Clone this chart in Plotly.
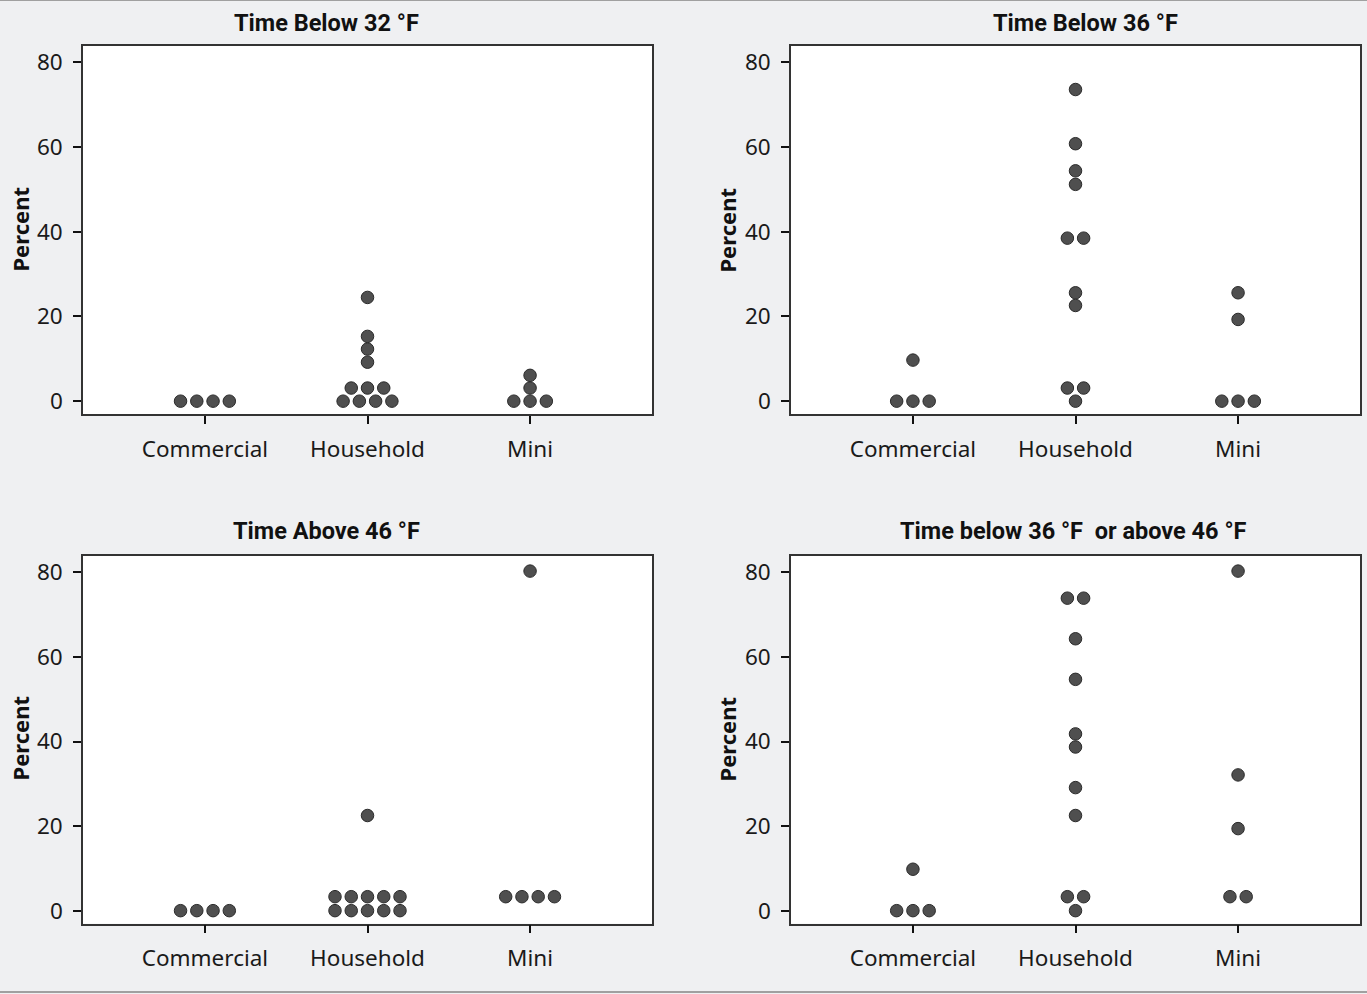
import plotly.graph_objects as go
from plotly.subplots import make_subplots

categories = ["Commercial", "Household", "Mini"]
panel_titles = ["Time Below 32 °F", "Time Below 36 °F", "Time Above 46 °F",
                "Time below 36 °F  or above 46 °F"]
y_ticks = [0, 20, 40, 60, 80]

below32_commercial = [0, 0, 0, 0]
below32_household = [24.5, 15.3, 12.3, 9.2, 3.1, 3.1, 3.1, 0, 0, 0, 0]
below32_mini = [6.1, 3.1, 0, 0, 0]

below36_commercial = [9.7, 0, 0, 0]
below36_household = [73.6, 60.8, 54.4, 51.2, 38.5, 38.5, 25.6, 22.6, 3.1, 3.1, 0]
below36_mini = [25.6, 19.3, 0, 0, 0]

above46_commercial = [0, 0, 0, 0]
above46_household = [22.5, 3.3, 3.3, 3.3, 3.3, 3.3, 0, 0, 0, 0, 0]
above46_mini = [80.3, 3.3, 3.3, 3.3, 3.3]

outside_commercial = [9.8, 0, 0, 0]
outside_household = [73.9, 73.9, 64.3, 54.7, 41.8, 38.7, 29.1, 22.5, 3.3, 3.3, 0]
outside_mini = [80.3, 32.1, 19.4, 3.3, 3.3]

panels = [
    [below32_commercial, below32_household, below32_mini],
    [below36_commercial, below36_household, below36_mini],
    [above46_commercial, above46_household, above46_mini],
    [outside_commercial, outside_household, outside_mini],
]

DOT_STEP = 0.1  # horizontal spacing of tied dots, in category units


def swarm(groups):
    xs, ys, txt = [], [], []
    for ci, vals in enumerate(groups):
        counts = {}
        for v in vals:
            counts[v] = counts.get(v, 0) + 1
        for v, n in counts.items():
            for k in range(n):
                xs.append(ci + (k - (n - 1) / 2) * DOT_STEP)
                ys.append(v)
                txt.append(categories[ci])
    return xs, ys, txt


fig = make_subplots(rows=2, cols=2)

W, H = 1367, 994
x_doms = [(83 / W, 652 / W), (791 / W, 1360 / W)]
y_doms = [((994 - 415) / H, (994 - 46) / H), ((994 - 925.5) / H, (994 - 557) / H)]

for p, groups in enumerate(panels):
    r, c = p // 2 + 1, p % 2 + 1
    xs, ys, txt = swarm(groups)
    fig.add_trace(go.Scatter(
        x=xs, y=ys, mode="markers", text=txt, showlegend=False,
        marker=dict(size=12.5, color="#4f4f4f", line=dict(color="#2a2a2a", width=1)),
        hovertemplate="%{text}: %{y}<extra></extra>"), row=r, col=c)

tick_font = dict(family="Noto Sans, Open Sans, sans-serif", size=22.5, color="#1a1a1a")
for p in range(4):
    ri, ci = p // 2, p % 2
    sfx = "" if p == 0 else str(p + 1)
    fig.layout["xaxis" + sfx].update(
        domain=x_doms[ci], range=[-0.75, 2.75], tickmode="array",
        tickvals=[0, 1, 2], ticktext=categories, showgrid=False, zeroline=False,
        showline=True, mirror=True, linecolor="#333333", linewidth=1.5,
        ticks="outside", ticklen=8, tickwidth=1.5, tickcolor="#111111",
        tickfont=tick_font, ticklabelstandoff=6)
    fig.layout["yaxis" + sfx].update(
        domain=y_doms[ri], range=[-3.07, 83.9], tickmode="array",
        tickvals=y_ticks, showgrid=False, zeroline=False,
        showline=True, mirror=True, linecolor="#333333", linewidth=1.5,
        ticks="outside", ticklen=8, tickwidth=1.5, tickcolor="#111111",
        tickfont=tick_font, ticklabelstandoff=6)

title_pos = [(326, 23), (1085, 23), (326, 532), (1073, 532)]
for p, (tx, ty) in enumerate(title_pos):
    fig.add_annotation(
        text="<b>" + panel_titles[p] + "</b>", xref="paper", yref="paper",
        x=tx / W, y=(H - ty) / H, xanchor="center", yanchor="middle",
        showarrow=False, font=dict(family="Roboto, sans-serif", size=23.5, color="#111111"))

label_pos = [(20, 230), (727, 230), (20, 740), (727, 740)]
for lx, ly in label_pos:
    fig.add_annotation(
        text="<b>Percent</b>", xref="paper", yref="paper", x=lx / W, y=(H - ly) / H,
        xanchor="center", yanchor="middle", textangle=-90, showarrow=False,
        font=dict(family="Noto Sans, sans-serif", size=22, color="#111111"))

fig.add_shape(type="line", xref="paper", yref="paper", x0=0, x1=1, y0=1, y1=1,
              line=dict(color="#a0a0a0", width=2))
fig.add_shape(type="line", xref="paper", yref="paper", x0=0, x1=1, y0=0, y1=0,
              line=dict(color="#a0a0a0", width=2))

fig.update_layout(
    width=W, height=H, margin=dict(l=0, r=0, t=0, b=0),
    paper_bgcolor="#eff0f2", plot_bgcolor="#ffffff",
)

fig.write_html("out.html")
